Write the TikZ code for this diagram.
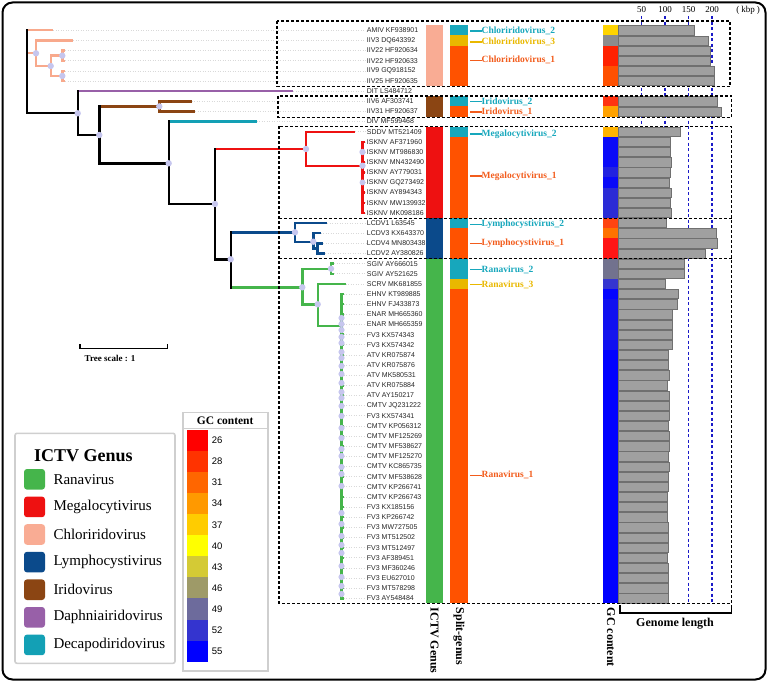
\documentclass[tikz,border=0pt]{standalone}
\usepackage{fontspec}
\setmainfont{Liberation Serif}
\newfontfamily\arialf{Liberation Sans}
\definecolor{salm}{HTML}{F8A98C}
\definecolor{purp}{HTML}{9860A8}
\definecolor{brn}{HTML}{8B4513}
\definecolor{tealc}{HTML}{13A0B5}
\definecolor{redc}{HTML}{EE1111}
\definecolor{bluc}{HTML}{0B4A8B}
\definecolor{grnc}{HTML}{45B54B}
\definecolor{dotc}{HTML}{C6C6EE}
\definecolor{sgteal}{HTML}{17A7BC}
\definecolor{sggold}{HTML}{E9B800}
\definecolor{sgor}{HTML}{FF5200}
\definecolor{sgortext}{HTML}{F25C1C}
\definecolor{barc}{HTML}{A0A0A0}
\definecolor{bard}{HTML}{707070}
\definecolor{ictvsalm}{HTML}{F9AC94}
\definecolor{legbd}{HTML}{CFCFCF}
\definecolor{axblue}{HTML}{1A1AC8}
\pgfmathdeclarefunction{ry}{1}{\pgfmathparse{30.3+(#1-1)*10.143}}
\newcommand\brV[4]{\draw[br,#1,line cap=rect] (#2 |- #3) -- (#2 |- #4);}
\newcommand\brH[3]{\draw[br,#1] (#2 |- #3) -- (#3);}
\newcommand\colcell[5]{\fill[#5] (#1,{ry(#3)-5.07}) rectangle (#2,{ry(#4)+5.07});}
\begin{document}
\begin{tikzpicture}[x=1pt,y=-1pt,
  br/.style={line width=2.4pt},
  leaf/.style={anchor=west,inner sep=0pt,font=\arialf\fontsize{7}{8}\selectfont,text=black!85},
  lead/.style={draw=gray!30,dotted,line width=0.5pt},
  dbox/.style={draw=black,line width=1.3pt,dash pattern=on 3pt off 2pt},
  sglab/.style={anchor=west,inner sep=0pt,font=\bfseries\fontsize{9.5}{10}\selectfont},
  gbar/.style={fill=barc,draw=bard,line width=0.5pt},
  nd/.style={fill=dotc},
  axl/.style={font=\fontsize{9}{9}\selectfont,inner sep=0pt},
  collab/.style={rotate=-90,anchor=west,inner sep=0pt,font=\bfseries\fontsize{12}{12}\selectfont},
  legtxt/.style={anchor=west,inner sep=0pt,font=\fontsize{15}{15}\selectfont},
  gcnum/.style={anchor=west,inner sep=0pt,font=\arialf\fontsize{9.5}{10}\selectfont}]
\useasboundingbox (0,0) rectangle (768,682);
\draw[line width=2pt,rounded corners=10pt] (2.5,2.5) rectangle (765.5,679.5);

% genome-length axis lines
\foreach \xx/\lab in {641.7/50,665/100,688.7/150,712/200}{
  \node[axl] (ax\lab) at (\xx,10) {\lab};
  \draw[axblue,line width=1.3pt,dash pattern=on 3pt off 2.5pt] (ax\lab.south) ++(0,3) -- (\xx,603);
}
\node[axl] (kbp) at (748,10) {(\hspace{2pt}kbp\hspace{2pt})};

% leaves
\foreach \i/\t/\x in {
1/AMIV KF938901/53.3, 2/IIV3 DQ643392/73.3, 3/IIV22 HF920634/65, 4/IIV22 HF920633/65,
5/IIV9 GQ918152/65, 6/IIV25 HF920635/65, 7/DIT LS484712/293.3, 8/IIV6 AF303741/191.7,
9/IIV31 HF920637/195, 10/DIV MF599468/256.7, 11/SDDV MT521409/355,
12/ISKNV AF371960/364.5, 13/ISKNV MT986830/364.5, 14/ISKNV MN432490/364.5,
15/ISKNV AY779031/364.5, 16/ISKNV GQ273492/364.5, 17/ISKNV AY894343/364.5,
18/ISKNV MW139932/364.5, 19/ISKNV MK098186/364.5, 20/LCDV1 L63545/327.3,
21/LCDV3 KX643370/320.7, 22/LCDV4 MN803438/323, 23/LCDV2 AY380826/325,
24/SGIV AY666015/334, 25/SGIV AY521625/334, 26/SCRV MK681855/345.7,
27/EHNV KT989885/343.5, 28/EHNV FJ433873/343.5, 29/ENAR MH665360/343.5,
30/ENAR MH665359/343.5, 31/FV3 KX574343/343.5, 32/FV3 KX574342/343.5,
33/ATV KR075874/343.5, 34/ATV KR075876/343.5, 35/ATV MK580531/343.5,
36/ATV KR075884/343.5, 37/ATV AY150217/343.5, 38/CMTV JQ231222/343.5,
39/FV3 KX574341/343.5, 40/CMTV KP056312/343.5, 41/CMTV MF125269/343.5,
42/CMTV MF538627/343.5, 43/CMTV MF125270/343.5, 44/CMTV KC865735/343.5,
45/CMTV MF538628/343.5, 46/CMTV KP266741/343.5, 47/CMTV KP266743/343.5,
48/FV3 KX185156/343.5, 49/FV3 KP266742/343.5, 50/FV3 MW727505/343.5,
51/FV3 MT512502/343.5, 52/FV3 MT512497/343.5, 53/FV3 AF389451/343.5,
54/FV3 MF360246/343.5, 55/FV3 EU627010/343.5, 56/FV3 MT578298/343.5,
57/FV3 AY548484/343.5}{
  \coordinate (t\i) at (\x,{ry(\i)});
  \node[leaf] (l\i) at (366.7,{ry(\i)}) {\t};
  \draw[lead] (t\i) -- ([xshift=-1pt]l\i.west);
}

% internal nodes
\coordinate (R) at (26.7,113.3);
\coordinate (C1) at (36,53.3);
\coordinate (C2) at (50.7,66);
\coordinate (C3) at (62.3,55.65);
\coordinate (C4) at (62.3,75.95);
\coordinate (N1) at (77.7,113.3);
\coordinate (N2) at (99.3,135);
\coordinate (Ir) at (159.3,106.4);
\coordinate (N3) at (168.7,163.3);
\coordinate (N4) at (215,204);
\coordinate (Mg) at (306,149);
\coordinate (Is) at (362.5,165.7);
\coordinate (N5) at (230.7,259.3);
\coordinate (Ly) at (295,232.3);
\coordinate (LyA) at (313.3,241.7);
\coordinate (LyB) at (317.5,248.4);
\coordinate (Rn) at (302.3,287.3);
\coordinate (SG) at (331,268.7);
\coordinate (RnB) at (317.7,304.3);
\coordinate (RnC) at (341.5,325.7);

% horizontals
\brH{salm}{R}{t1} \brH{salm}{R}{C1} \brH{black}{R}{N1}
\brH{salm}{C1}{t2} \brH{salm}{C1}{C2} \brH{salm}{C2}{C3} \brH{salm}{C2}{C4}
\brH{salm}{C3}{t3} \brH{salm}{C3}{t4} \brH{salm}{C4}{t5} \brH{salm}{C4}{t6}
\brH{purp}{N1}{t7} \brH{black}{N1}{N2}
\brH{brn}{N2}{Ir} \brH{black}{N2}{N3} \brH{brn}{Ir}{t8} \brH{brn}{Ir}{t9}
\brH{tealc}{N3}{t10} \brH{black}{N3}{N4}
\brH{redc}{N4}{Mg} \brH{black}{N4}{N5}
\brH{redc}{Mg}{t11} \brH{redc}{Mg}{Is}
\foreach \k in {12,...,19}{\brH{redc}{Is}{t\k}}
\brH{bluc}{N5}{Ly} \brH{grnc}{N5}{Rn}
\brH{bluc}{Ly}{t20} \brH{bluc}{Ly}{LyA} \brH{bluc}{LyA}{t21} \brH{bluc}{LyA}{LyB}
\brH{bluc}{LyB}{t22} \brH{bluc}{LyB}{t23}
\brH{grnc}{Rn}{SG} \brH{grnc}{Rn}{RnB} \brH{grnc}{SG}{t24} \brH{grnc}{SG}{t25}
\brH{grnc}{RnB}{t26} \brH{grnc}{RnB}{RnC}
\foreach \k in {27,...,57}{\brH{grnc}{RnC}{t\k}}

% verticals
\brV{black}{R}{t1}{N1}
\brV{salm}{C1}{t2}{C2} \brV{salm}{C2}{C3}{C4} \brV{salm}{C3}{t3}{t4} \brV{salm}{C4}{t5}{t6}
\brV{black}{N1}{t7}{N2} \brV{black}{N2}{Ir}{N3} \brV{brn}{Ir}{t8}{t9}
\brV{black}{N3}{t10}{N4} \brV{black}{N4}{Mg}{N5}
\brV{redc}{Mg}{t11}{Is} \brV{redc}{Is}{t12}{t19}
\brV{black}{N5}{Ly}{Rn}
\brV{bluc}{Ly}{t20}{LyA} \brV{bluc}{LyA}{t21}{LyB} \brV{bluc}{LyB}{t22}{t23}
\brV{grnc}{Rn}{SG}{RnB} \brV{grnc}{SG}{t24}{t25} \brV{grnc}{RnB}{t26}{RnC}
\brV{grnc}{RnC}{t27}{t57}

% node dots
\foreach \p in {C1,C2,C3,C4,N1,N2,Ir,N3,N4,Mg,Is,N5,Ly,LyA,Rn,SG,RnB}{\fill[nd] (\p) circle (3.2);}
\fill[nd] (Is |- t13) circle (3.2);
\fill[nd] (Is |- t16) circle (3);
\foreach \yy in {318,324,330,337,343,352,358,366,374,383,392,398,406,416,428,438,449,456,467,474,486,513,524,536,545,553,566,577,586,594}{
  \fill[nd] (RnC |- 0,\yy) circle (3.1);}

% ICTV genus column
\colcell{425.7}{443.3}{1}{6}{ictvsalm}
\colcell{425.7}{443.3}{8}{9}{brn}
\colcell{425.7}{443.3}{11}{19}{redc}
\colcell{425.7}{443.3}{20}{23}{bluc}
\colcell{425.7}{443.3}{24}{57}{grnc}
% split genus column
\colcell{450}{467.7}{1}{1}{sgteal}
\colcell{450}{467.7}{2}{2}{sggold}
\colcell{450}{467.7}{3}{6}{sgor}
\colcell{450}{467.7}{8}{8}{sgteal}
\colcell{450}{467.7}{9}{9}{sgor}
\colcell{450}{467.7}{11}{11}{sgteal}
\colcell{450}{467.7}{12}{19}{sgor}
\colcell{450}{467.7}{20}{20}{sgteal}
\colcell{450}{467.7}{21}{23}{sgor}
\colcell{450}{467.7}{24}{25}{sgteal}
\colcell{450}{467.7}{26}{26}{sggold}
\colcell{450}{467.7}{27}{57}{sgor}

% split genus labels
\foreach \yy/\c/\t/\n in {31/sgteal/Chloriridovirus\_2/a, 42/sggold/Chloriridovirus\_3/b,
  60.3/sgortext/Chloriridovirus\_1/c, 101.7/sgteal/Iridovirus\_2/d, 112/sgortext/Iridovirus\_1/e,
  134/sgteal/Megalocytivirus\_2/f, 176/sgortext/Megalocytivirus\_1/g,
  224.3/sgteal/Lymphocystivirus\_2/h, 243.3/sgortext/Lymphocystivirus\_1/i,
  269.7/sgteal/Ranavirus\_2/j, 284.7/sggold/Ranavirus\_3/k, 475.3/sgortext/Ranavirus\_1/m}{
  \node[sglab,text=\c] (sg\n) at (481.5,\yy) {\t};
  \coordinate (sgs\n) at (470,\yy);
  \draw[\c,line width=1.3pt] (sgs\n) -- (sg\n.west);
}

% GC content column
\foreach \i/\c in {1/FFD400,2/8C8C8C,3/FF2200,4/FF2200,5/FF5000,6/FF5000,8/FF3311,9/FFA200,
  11/FFB300,12/0A0AF8,13/0A0AF8,14/0A0AF8,15/2222E0,16/0A0AF8,17/2B2BD6,18/2B2BD6,19/2B2BD6,
  20/FF4411,21/FF7200,22/FF1515,23/FF1515,24/72728E,25/72728E,26/3535D0,27/0505FF,28/1010F0,
  29/1010F0,30/1010F0,31/1515EC,32/1010F0}{
  \definecolor{tmpgc}{HTML}{\c}
  \colcell{603.3}{618.7}{\i}{\i}{tmpgc}
}
\colcell{603.3}{618.7}{33}{57}{blue}

% genome length bars
\foreach \i/\e in {1/694.7,2/708,3/710.7,4/710.7,5/714.7,6/714.7,8/717.7,9/721.7,
  11/680,12/670.7,13/670.7,14/671.3,15/670,16/669.3,17/671.3,18/670.7,19/671.3,
  20/666.7,21/716,22/717.7,23/705.7,24/684,25/684,26/665.3,27/678.3,28/677.3,
  29/672.3,30/672.3,31/672.3,32/672.3,33/668.3,34/668,35/669,36/667.7,37/669,38/669.3,
  39/669.3,40/668.7,41/669,42/669,43/668.7,44/669,45/668,46/668,47/667.3,48/667,
  49/667,50/668.7,51/668,52/668,53/667.7,54/668.7,55/668.3,56/668,57/668.3}{
  \draw[gbar] (618.7,{ry(\i)-4.6}) rectangle (\e,{ry(\i)+4.6});
}

% dashed group boxes
\draw[dbox] (277,21) rectangle (730,86.5);
\draw[dbox] (278,96) rectangle (731.5,117.3);
\draw[dbox] (279,126.3) rectangle (731.5,603.3);
\draw[dbox] (279,218.3) -- (731.5,218.3);
\draw[dbox] (279,258.5) -- (731.5,258.5);

% column titles
\node[collab] (cI) at (434.5,607.5) {ICTV Genus};
\node[collab] (cS) at (458.9,607.5) {Split-genus};
\node[collab] (cG) at (611,607.5) {GC content};
\coordinate (gb1) at (620,605);
\coordinate (gb2) at (731.5,605);
\draw[line width=1.6pt] (gb1) -- ++(0,7.7) -| (gb2);
\node[font=\bfseries\fontsize{12}{12}\selectfont,inner sep=0pt] (gl) at (675,623.5) {Genome length};

% tree scale
\coordinate (sc1) at (80,344);
\coordinate (sc2) at (167.3,344);
\draw[line width=1.4pt] (sc1) -- ++(0,4.3) -| (sc2);
\node[font=\bfseries\fontsize{9}{9}\selectfont,inner sep=0pt] (tsc) at (110,358) {Tree scale : 1};

% ICTV legend
\draw[legbd,line width=1.6pt,rounded corners=2pt] (15,433.3) rectangle (175,663.3);
\node[font=\bfseries\fontsize{18}{18}\selectfont,inner sep=0pt] (lgT) at (83.3,455.5) {ICTV Genus};
\foreach \k/\c/\t in {0/grnc/Ranavirus,1/redc/Megalocytivirus,2/ictvsalm/Chloriridovirus,
  3/bluc/Lymphocystivirus,4/brn/Iridovirus,5/purp/Daphniairidovirus,6/tealc/Decapodiridovirus}{
  \fill[\c,rounded corners=3pt] (24,{479.3+\k*27.6-10.3}) rectangle (45,{479.3+\k*27.6+10.3});
  \node[legtxt] (lg\k) at (53.3,{479.3+\k*27.6}) {\t};
}

% GC legend
\draw[legbd,line width=1.6pt] (182.7,412.3) rectangle (267.7,670.7);
\draw[legbd,line width=1pt] (183,428.5) -- (267.4,428.5);
\node[font=\bfseries\fontsize{11.5}{12}\selectfont,inner sep=0pt] (gcT) at (225.2,420.3) {GC content};
\foreach \k/\c/\t in {0/FF0000/26,1/FF3300/28,2/FF6600/31,3/FF9900/34,4/FFCC00/37,5/FFFF00/40,
  6/D4CA35/43,7/9E9A68/46,8/6D6B9C/49,9/3434CF/52,10/0000FF/55}{
  \definecolor{tmpl}{HTML}{\c}
  \fill[tmpl] (187,{430+\k*21.06}) rectangle (208.3,{430+(\k+1)*21.06});
  \node[gcnum] (gcn\k) at (211.7,{430+(\k+0.5)*21.06}) {\t};
}
\end{tikzpicture}
\end{document}
